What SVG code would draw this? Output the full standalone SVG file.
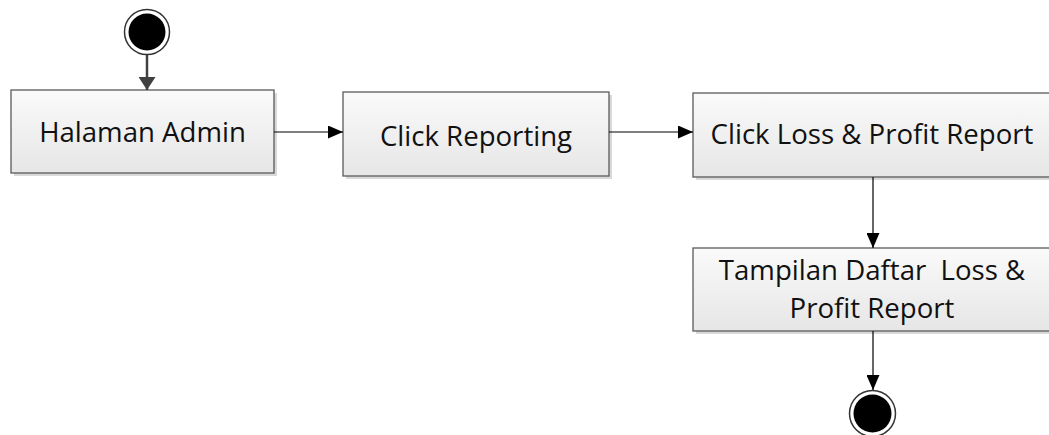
<svg xmlns="http://www.w3.org/2000/svg" width="1049" height="435" viewBox="0 0 1049 435">
<style>
.box{fill:url(#g);stroke:#5a5a5a;stroke-width:1.3}
.sh{fill:#d9d9d9}
.t{font-family:"Open Sans","Liberation Sans",sans-serif;font-size:27.6px;fill:#111;text-anchor:middle;white-space:pre}
.c{stroke:#000;stroke-width:1.2;fill:none;marker-end:url(#a)}
</style>
<defs>
<linearGradient id="g" x1="0" y1="0" x2="0" y2="1">
<stop offset="0" stop-color="#fafafa"/>
<stop offset="1" stop-color="#e6e6e6"/>
</linearGradient>
<marker id="a" viewBox="0 0 15 13" refX="15" refY="6.5" markerWidth="15" markerHeight="13" markerUnits="userSpaceOnUse" orient="auto">
<path d="M0,0 L15,6.5 L0,13 Z" fill="#000"/>
</marker>
<marker id="a2" viewBox="0 0 13 17" refX="13" refY="8.5" markerWidth="13" markerHeight="17" markerUnits="userSpaceOnUse" orient="auto">
<path d="M0,0 L13,8.5 L0,17 Z" fill="#404040"/>
</marker>
</defs>
<rect width="1049" height="435" fill="#fff"/>
<g id="start">
<circle cx="147" cy="32" r="22.5" fill="#fff" stroke="#333" stroke-width="1.5"/>
<circle cx="147" cy="32" r="18.5" fill="#000"/>
</g>
<g id="n1">
<rect class="sh" x="14" y="93" width="263" height="83"/>
<rect class="box" x="11" y="90" width="263" height="83"/>
<text class="t" x="142.5" y="142">Halaman Admin</text>
</g>
<g id="n2">
<rect class="sh" x="346" y="95" width="266" height="84"/>
<rect class="box" x="343" y="92" width="266" height="84"/>
<text class="t" x="476" y="146">Click Reporting</text>
</g>
<g id="n3">
<rect class="sh" x="696" y="96" width="360" height="84"/>
<rect class="box" x="693" y="93" width="360" height="84"/>
<text class="t" x="872" y="144">Click Loss &amp; Profit Report</text>
</g>
<g id="n4">
<rect class="sh" x="696" y="251" width="360" height="83"/>
<rect class="box" x="693" y="248" width="360" height="83"/>
<text class="t" x="872" y="280">Tampilan Daftar  Loss &amp;</text>
<text class="t" x="872" y="318">Profit Report</text>
</g>
<g id="end">
<circle cx="872.5" cy="413.5" r="23" fill="#fff" stroke="#333" stroke-width="1.5"/>
<circle cx="872.5" cy="413.5" r="19" fill="#000"/>
</g>
<g id="connectors">
<path d="M147,55 V90" stroke="#404040" stroke-width="2.5" fill="none" marker-end="url(#a2)"/>
<path class="c" d="M274,132 H343"/>
<path class="c" d="M609,132 H693"/>
<path class="c" d="M873,177 V248"/>
<path class="c" d="M873,331 V390"/>
</g>
</svg>
